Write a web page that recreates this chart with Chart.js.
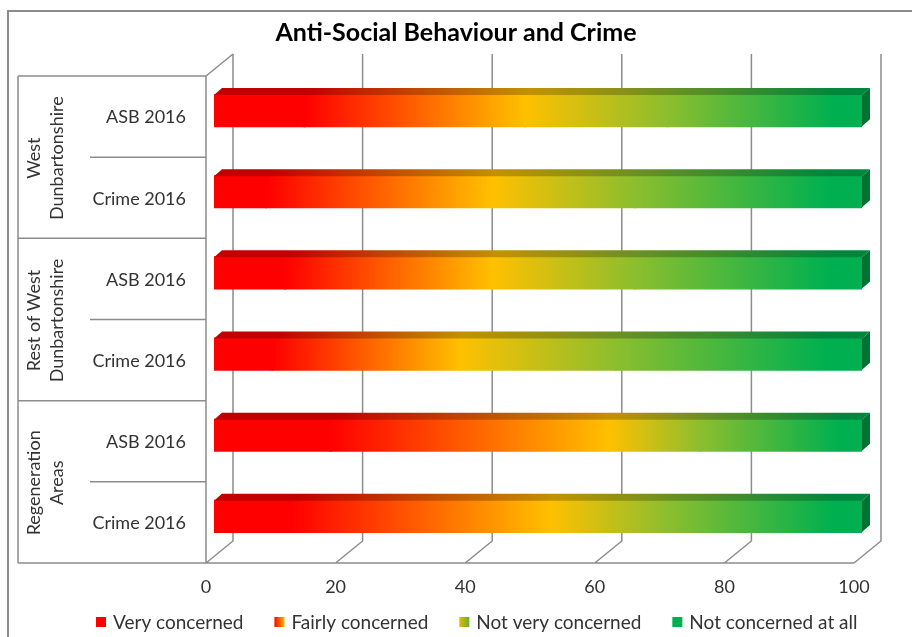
<!DOCTYPE html>
<html><head><meta charset="utf-8">
<script src="https://cdn.jsdelivr.net/npm/chart.js@4.4.1/dist/chart.umd.min.js"></script>
<style>html,body{margin:0;padding:0;background:#fff}#wrap{width:912px;height:637px;position:relative}</style>
</head><body><div id="wrap"><canvas id="c" width="912" height="637"></canvas></div>
<script>
// ---- data ----
const chartTitle = 'Anti-Social Behaviour and Crime';
const categories = ['ASB 2016','Crime 2016','ASB 2016','Crime 2016','ASB 2016','Crime 2016'];
const groups = [['West','Dunbartonshire'],['Rest of West','Dunbartonshire'],['Regeneration','Areas']];
const seriesNames = ['Very concerned','Fairly concerned','Not very concerned','Not concerned at all'];
const veryConcerned     = [14, 8, 11, 9, 18, 12];
const fairlyConcerned   = [34, 35, 32, 29, 43, 40];
const notVeryConcerned  = [22, 22, 22, 24, 14, 18];
const notConcernedAtAll = [30, 35, 35, 38, 25, 30];
const xTicks = [0, 20, 40, 60, 80, 100];

// ---- styles ----
const seriesData = [veryConcerned, fairlyConcerned, notVeryConcerned, notConcernedAtAll];
const stopsList = [
  [[0,'#FF0000'],[1,'#FF0000']],
  [[0,'#FF0000'],[1,'#FFC000']],
  [[0,'#FFC000'],[1,'#8CBE2E']],
  [[0,'#8CBE2E'],[0.85,'#00B050'],[1,'#00B050']]
];
const legendStops = [
  [[0,'#FF0000'],[1,'#FF0000']],
  [[0,'#FF0000'],[0.6,'#FF7000'],[1,'#FFB800']],
  [[0,'#E8B800'],[1,'#66B032']],
  [[0,'#00B050'],[1,'#00B050']]
];
const solid = ['#FF0000','#FF6000','#C8C020','#00B050'];
const GRAY = '#8c8c8c';
const TXT = '#333333';
const FONT = 'Lato, "Open Sans", sans-serif';
const FRONT_DX = 8, FRONT_DY = 6, DEPTH_X = 27, DEPTH_Y = 22;
const BAR_DX = 8, BAR_DY = 7;
const TABLE_LEFT = 18, SUB_LEFT = 90;
const LEGEND_X = 96, LEGEND_Y = 623, LEGEND_BOX = 10, LEGEND_GAP = 7, LEGEND_SPACING = 31, LEGEND_FONT = 19;

function shade(hex, f) {
  const n = parseInt(hex.slice(1), 16);
  const r = (n >> 16) & 255, g = (n >> 8) & 255, b = n & 255;
  return 'rgb(' + Math.round(r*f) + ',' + Math.round(g*f) + ',' + Math.round(b*f) + ')';
}
// one gradient for a whole row: each series' own stops placed inside its segment
function rowGradient(chart, i, f, dx) {
  const xs = chart.scales.x;
  const x0 = xs.getPixelForValue(0) + dx, x1 = xs.getPixelForValue(100) + dx;
  const g = chart.ctx.createLinearGradient(x0, 0, x1, 0);
  let s = 0;
  seriesData.forEach((arr, d) => {
    const e = s + arr[i];
    stopsList[d].forEach(([o, c]) => {
      const pos = Math.min(1, Math.max(0, (s + o * (e - s)) / 100));
      g.addColorStop(pos, f === 1 ? c : shade(c, f));
    });
    s = e;
  });
  return g;
}

Chart.defaults.font.family = FONT;
Chart.defaults.color = TXT;

const datasets = seriesNames.map((name, d) => ({
  label: name,
  data: seriesData[d],
  borderWidth: 0,
  inflateAmount: 1,
  barPercentage: 0.385,
  categoryPercentage: 1,
  backgroundColor: (c) => {
    const chart = c.chart;
    if (!chart.chartArea || c.dataIndex === undefined || c.type !== 'data') return solid[d];
    return rowGradient(chart, c.dataIndex, 1, 0);
  }
}));

const framePlugin = {
  id: 'frame3d',
  beforeDraw(chart) {
    const {ctx, chartArea: a, scales: {x, y}} = chart;
    ctx.save();
    ctx.strokeStyle = GRAY;
    ctx.lineWidth = 2;
    ctx.strokeRect(8, 11, chart.width + 20, chart.height + 20);
    ctx.lineWidth = 1.5;
    const band = (a.bottom - a.top) / categories.length;
    const yTop = a.top + FRONT_DY, yBot = a.bottom + FRONT_DY;
    const xf = v => x.getPixelForValue(v) - FRONT_DX;
    const x0 = xf(xTicks[0]), xEnd = xf(xTicks[xTicks.length - 1]);
    ctx.beginPath();
    xTicks.forEach(v => {
      const px = xf(v);
      ctx.moveTo(px, yBot);
      ctx.lineTo(px + DEPTH_X, yBot - DEPTH_Y);
      ctx.lineTo(px + DEPTH_X, yTop - DEPTH_Y);
    });
    ctx.moveTo(x0, yTop); ctx.lineTo(x0 + DEPTH_X, yTop - DEPTH_Y);
    ctx.moveTo(x0, yTop); ctx.lineTo(x0, yBot);
    ctx.moveTo(TABLE_LEFT, yBot); ctx.lineTo(xEnd, yBot);
    ctx.moveTo(TABLE_LEFT, yTop); ctx.lineTo(TABLE_LEFT, yBot);
    for (let k = 0; k < categories.length; k++) {
      const yy = y.getPixelForValue(k) - band / 2 + FRONT_DY;
      ctx.moveTo(k % 2 === 0 ? TABLE_LEFT : SUB_LEFT, yy);
      ctx.lineTo(x0, yy);
    }
    ctx.stroke();
    ctx.restore();
  },
  afterDatasetsDraw(chart) {
    const {ctx} = chart;
    const first = chart.getDatasetMeta(0).data;
    const last = chart.getDatasetMeta(seriesNames.length - 1).data;
    ctx.save();
    first.forEach((bar0, i) => {
      const p0 = bar0.getProps(['base', 'y', 'height'], true);
      const p1 = last[i].getProps(['x'], true);
      const top = p0.y - p0.height / 2, bot = p0.y + p0.height / 2;
      ctx.beginPath();
      ctx.moveTo(p0.base, top);
      ctx.lineTo(p1.x, top);
      ctx.lineTo(p1.x + BAR_DX, top - BAR_DY);
      ctx.lineTo(p0.base + BAR_DX, top - BAR_DY);
      ctx.closePath();
      ctx.fillStyle = rowGradient(chart, i, 0.76, BAR_DX / 2);
      ctx.fill();
      ctx.beginPath();
      ctx.moveTo(p1.x, top);
      ctx.lineTo(p1.x + BAR_DX, top - BAR_DY);
      ctx.lineTo(p1.x + BAR_DX, bot - BAR_DY);
      ctx.lineTo(p1.x, bot);
      ctx.closePath();
      ctx.fillStyle = '#007233';
      ctx.fill();
    });
    ctx.restore();
  },
  afterDraw(chart) {
    const {ctx, scales: {y}} = chart;
    ctx.save();
    ctx.fillStyle = TXT;
    ctx.font = '18px ' + FONT;
    ctx.textAlign = 'center';
    ctx.textBaseline = 'middle';
    const cx = (TABLE_LEFT + SUB_LEFT) / 2 - 8;
    groups.forEach((lines, g) => {
      const cy = (y.getPixelForValue(2 * g) + y.getPixelForValue(2 * g + 1)) / 2 + FRONT_DY + 1;
      ctx.save();
      ctx.translate(cx, cy);
      ctx.rotate(-Math.PI / 2);
      lines.forEach((t, j) => ctx.fillText(t, 0, (j - (lines.length - 1) / 2) * 23));
      ctx.restore();
    });
    ctx.font = LEGEND_FONT + 'px ' + FONT;
    ctx.textAlign = 'left';
    let lx = LEGEND_X;
    seriesNames.forEach((name, i) => {
      const g = ctx.createLinearGradient(lx, 0, lx + LEGEND_BOX, 0);
      legendStops[i].forEach(([o, c]) => g.addColorStop(o, c));
      ctx.fillStyle = g;
      ctx.fillRect(lx, LEGEND_Y - LEGEND_BOX / 2 - 1, LEGEND_BOX, LEGEND_BOX);
      ctx.fillStyle = TXT;
      const tx = lx + LEGEND_BOX + LEGEND_GAP;
      ctx.fillText(name, tx, LEGEND_Y);
      lx = tx + ctx.measureText(name).width + LEGEND_SPACING;
    });
    ctx.restore();
  }
};

new Chart(document.getElementById('c'), {
  type: 'bar',
  data: { labels: categories, datasets },
  plugins: [framePlugin],
  options: {
    indexAxis: 'y',
    responsive: false,
    animation: false,
    devicePixelRatio: 1,
    layout: { padding: { left: 0, right: 0, top: 0, bottom: 0 } },
    scales: {
      x: {
        stacked: true, min: 0, max: 100,
        afterBuildTicks: s => { s.ticks = xTicks.map(v => ({ value: v })); },
        afterFit: s => { s.height = 80; },
        grid: { display: false, drawTicks: false },
        border: { display: false },
        ticks: { padding: 19, labelOffset: -FRONT_DX, font: { size: 18 }, color: TXT, maxRotation: 0 }
      },
      y: {
        stacked: true,
        afterFit: s => { s.width = 214; },
        grid: { display: false, drawTicks: false },
        border: { display: false },
        ticks: { padding: 28, labelOffset: 7, font: { size: 18 }, color: TXT }
      },
      yRight: {
        type: 'linear', position: 'right', display: true,
        afterFit: s => { s.width = 50; },
        grid: { display: false, drawTicks: false },
        border: { display: false },
        ticks: { display: false }
      }
    },
    plugins: {
      title: {
        display: true, text: chartTitle, color: '#000',
        font: { size: 25, weight: 'bold' },
        padding: { top: 18, bottom: 22 }
      },
      legend: { display: false },
      tooltip: { enabled: false }
    }
  }
});
</script></body></html>
